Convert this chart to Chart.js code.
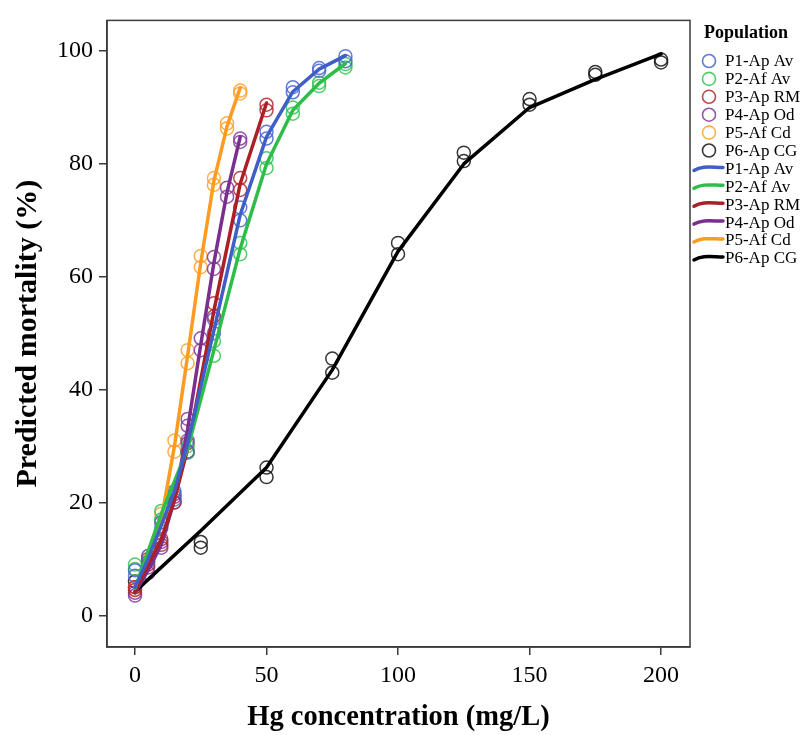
<!DOCTYPE html>
<html>
<head>
<meta charset="utf-8">
<script src="https://cdn.jsdelivr.net/npm/chart.js@4.4.1/dist/chart.umd.min.js"></script>
<style>
  html, body { margin: 0; padding: 0; background: #ffffff; }
  #wrap { width: 802px; height: 735px; }
</style>
</head>
<body>
<div id="wrap"><canvas id="c" width="802" height="735"></canvas></div>
<script>
// ---------------- data ----------------
const SERIES_LABELS = ['P1-Ap Av', 'P2-Af Av', 'P3-Ap RM', 'P4-Ap Od', 'P5-Af Cd', 'P6-Ap CG'];

const P1_X    = [0, 5, 10, 15, 20, 30, 40, 50, 60, 70, 80];
const P1_OBS1 = [8.0, 10.5, 16.5, 22.0, 31.0, 52.5, 72.3, 85.7, 93.6, 97.0, 99.1];
const P1_OBS2 = [7.0, 9.5, 15.5, 20.5, 29.0, 50.0, 70.0, 84.5, 92.7, 96.5, 98.2];
const P1_FIT  = [5.0, 10.0, 16.0, 22.0, 30.5, 50.5, 71.0, 84.8, 92.8, 96.8, 99.2];

const P2_X    = [0, 10, 20, 30, 40, 50, 60, 70, 80];
const P2_OBS1 = [9.0, 18.5, 30.0, 48.6, 66.0, 81.0, 90.0, 94.4, 97.7];
const P2_OBS2 = [8.2, 17.0, 28.8, 46.0, 64.0, 79.3, 88.9, 93.8, 97.1];
const P2_FIT  = [4.8, 18.0, 29.5, 47.0, 65.0, 80.0, 89.5, 94.3, 97.8];

const P3_X    = [0, 5, 10, 15, 20, 30, 40, 50];
const P3_OBS1 = [5.0, 10.0, 13.5, 21.0, 30.5, 55.3, 77.5, 90.5];
const P3_OBS2 = [4.5, 9.0, 12.5, 20.0, 29.0, 53.0, 75.4, 89.5];
const P3_FIT  = [4.2, 9.0, 13.5, 20.5, 29.5, 54.0, 76.5, 90.8];

const P4_X    = [0, 5, 10, 15, 20, 25, 30, 35, 40];
const P4_OBS1 = [4.0, 8.5, 13.0, 21.5, 34.8, 49.1, 63.5, 75.8, 84.5];
const P4_OBS2 = [3.5, 7.5, 12.0, 20.0, 33.6, 47.0, 61.4, 74.2, 83.9];
const P4_FIT  = [4.0, 8.0, 12.5, 20.5, 33.0, 48.0, 62.5, 75.0, 84.8];

const P5_X    = [0, 5, 10, 15, 20, 25, 30, 35, 40];
const P5_OBS1 = [5.0, 10.5, 18.0, 31.0, 47.0, 63.7, 77.5, 87.2, 93.0];
const P5_OBS2 = [4.5, 9.5, 16.5, 29.0, 44.7, 61.7, 76.3, 86.3, 92.5];
const P5_FIT  = [4.5, 10.0, 17.0, 30.0, 46.0, 62.5, 77.0, 86.7, 93.5];

const P6_X    = [0, 25, 50, 75, 100, 125, 150, 175, 200];
const P6_OBS1 = [6.0, 13.0, 26.2, 45.5, 66.0, 82.0, 91.5, 96.3, 98.5];
const P6_OBS2 = [5.0, 12.0, 24.5, 43.0, 64.0, 80.5, 90.5, 95.8, 98.0];
const P6_FIT  = [4.2, 15.0, 26.2, 43.5, 64.5, 80.0, 90.0, 95.0, 99.5];

const X_TICKS = [0, 50, 100, 150, 200];
const Y_TICKS = [0, 20, 40, 60, 80, 100];
const X_TITLE = 'Hg concentration (mg/L)';
const Y_TITLE = 'Predicted mortality (%)';
const LEGEND_TITLE = 'Population';

// ---------------- styling ----------------
const LINE_COLORS  = ['#3f5fc6', '#2fbd4a', '#ab1f26', '#7a2f8f', '#ff9b21', '#000000'];
const POINT_COLORS = ['rgba(70,100,205,0.85)', 'rgba(50,195,80,0.85)', 'rgba(180,40,45,0.85)',
                      'rgba(130,55,155,0.85)', 'rgba(255,160,45,0.85)', 'rgba(20,20,20,0.85)'];
const FONT = "'Liberation Serif', 'Times New Roman', serif";

const GROUPS = [
  [P1_X, P1_OBS1, P1_OBS2, P1_FIT],
  [P2_X, P2_OBS1, P2_OBS2, P2_FIT],
  [P3_X, P3_OBS1, P3_OBS2, P3_FIT],
  [P4_X, P4_OBS1, P4_OBS2, P4_FIT],
  [P5_X, P5_OBS1, P5_OBS2, P5_FIT],
  [P6_X, P6_OBS1, P6_OBS2, P6_FIT]
];

const datasets = [];
GROUPS.forEach((g, i) => {
  const [xs, o1, o2] = g;
  const pts = [];
  xs.forEach((x, k) => { pts.push({x: x, y: o1[k]}); pts.push({x: x, y: o2[k]}); });
  datasets.push({
    label: SERIES_LABELS[i], kind: 'point', data: pts, showLine: false,
    pointStyle: 'circle', pointRadius: 6.5, pointHoverRadius: 6.5, pointBorderWidth: 1.5,
    borderColor: POINT_COLORS[i], backgroundColor: 'rgba(0,0,0,0)', order: 1
  });
});
GROUPS.forEach((g, i) => {
  const [xs, , , fit] = g;
  datasets.push({
    label: SERIES_LABELS[i], kind: 'line', data: xs.map((x, k) => ({x: x, y: fit[k]})),
    showLine: true, pointRadius: 0, borderWidth: 3.5, tension: 0,
    borderColor: LINE_COLORS[i], backgroundColor: LINE_COLORS[i], order: 0,
    borderCapStyle: 'round', borderJoinStyle: 'round'
  });
});

// ---------------- plugins ----------------
const framePlugin = {
  id: 'frame',
  afterDraw(chart) {
    const {ctx, chartArea: a} = chart;
    ctx.save();
    ctx.strokeStyle = '#3a3a3a';
    ctx.lineWidth = 1.5;
    ctx.strokeRect(a.left, a.top, a.right - a.left, a.bottom - a.top);
    ctx.restore();
  }
};

const legendPlugin = {
  id: 'customLegend',
  afterDraw(chart) {
    const ctx = chart.ctx;
    ctx.save();
    ctx.fillStyle = '#000';
    ctx.textBaseline = 'middle';
    ctx.textAlign = 'left';
    ctx.font = 'bold 18px ' + FONT;
    ctx.fillText(LEGEND_TITLE, 704, 33);
    ctx.font = '17px ' + FONT;
    const y0 = 61, step = 17.9;
    chart.data.datasets.forEach((ds, i) => {
      const y = y0 + i * step;
      if (ds.kind === 'point') {
        ctx.beginPath();
        ctx.strokeStyle = ds.borderColor;
        ctx.lineWidth = 1.6;
        ctx.arc(709, y, 6.5, 0, Math.PI * 2);
        ctx.stroke();
      } else {
        ctx.beginPath();
        ctx.strokeStyle = ds.borderColor;
        ctx.lineWidth = 3.5;
        ctx.lineCap = 'round';
        ctx.moveTo(694, y + 2);
        ctx.bezierCurveTo(702, y - 3, 712, y - 1, 723, y - 1);
        ctx.stroke();
      }
      ctx.fillStyle = '#000';
      ctx.fillText(ds.label, 725, y + 1);
    });
    ctx.restore();
  }
};

// ---------------- chart ----------------
new Chart(document.getElementById('c'), {
  type: 'scatter',
  data: { datasets: datasets },
  options: {
    responsive: false,
    animation: false,
    events: [],
    layout: { padding: { top: 14, right: 112, bottom: 0, left: 10 } },
    plugins: { legend: { display: false }, tooltip: { enabled: false } },
    scales: {
      x: {
        type: 'linear', min: -10.65, max: 211,
        afterBuildTicks(s) { s.ticks = X_TICKS.map(v => ({value: v})); },
        afterFit(s) { s.height = 88; },
        ticks: { font: { family: FONT, size: 24 }, color: '#000', padding: 6, maxRotation: 0 },
        grid: { display: true, drawOnChartArea: false, drawTicks: true, tickLength: 8, color: '#3a3a3a', lineWidth: 1.5 },
        border: { display: true, color: '#3a3a3a', width: 1.5 },
        title: { display: true, text: X_TITLE, color: '#000', font: { family: FONT, size: 28.5, weight: 'bold' }, padding: { top: 0, bottom: 0 } }
      },
      y: {
        type: 'linear', min: -5.61, max: 105.44,
        afterBuildTicks(s) { s.ticks = Y_TICKS.map(v => ({value: v})); },
        afterFit(s) { s.width = 97; },
        ticks: { font: { family: FONT, size: 24 }, color: '#000', padding: 6 },
        grid: { display: true, drawOnChartArea: false, drawTicks: true, tickLength: 8, color: '#3a3a3a', lineWidth: 1.5 },
        border: { display: true, color: '#3a3a3a', width: 1.5 },
        title: { display: true, text: Y_TITLE, color: '#000', font: { family: FONT, size: 30, weight: 'bold' }, padding: { top: 0, bottom: 0 } }
      }
    }
  },
  plugins: [framePlugin, legendPlugin]
});
</script>
</body>
</html>
